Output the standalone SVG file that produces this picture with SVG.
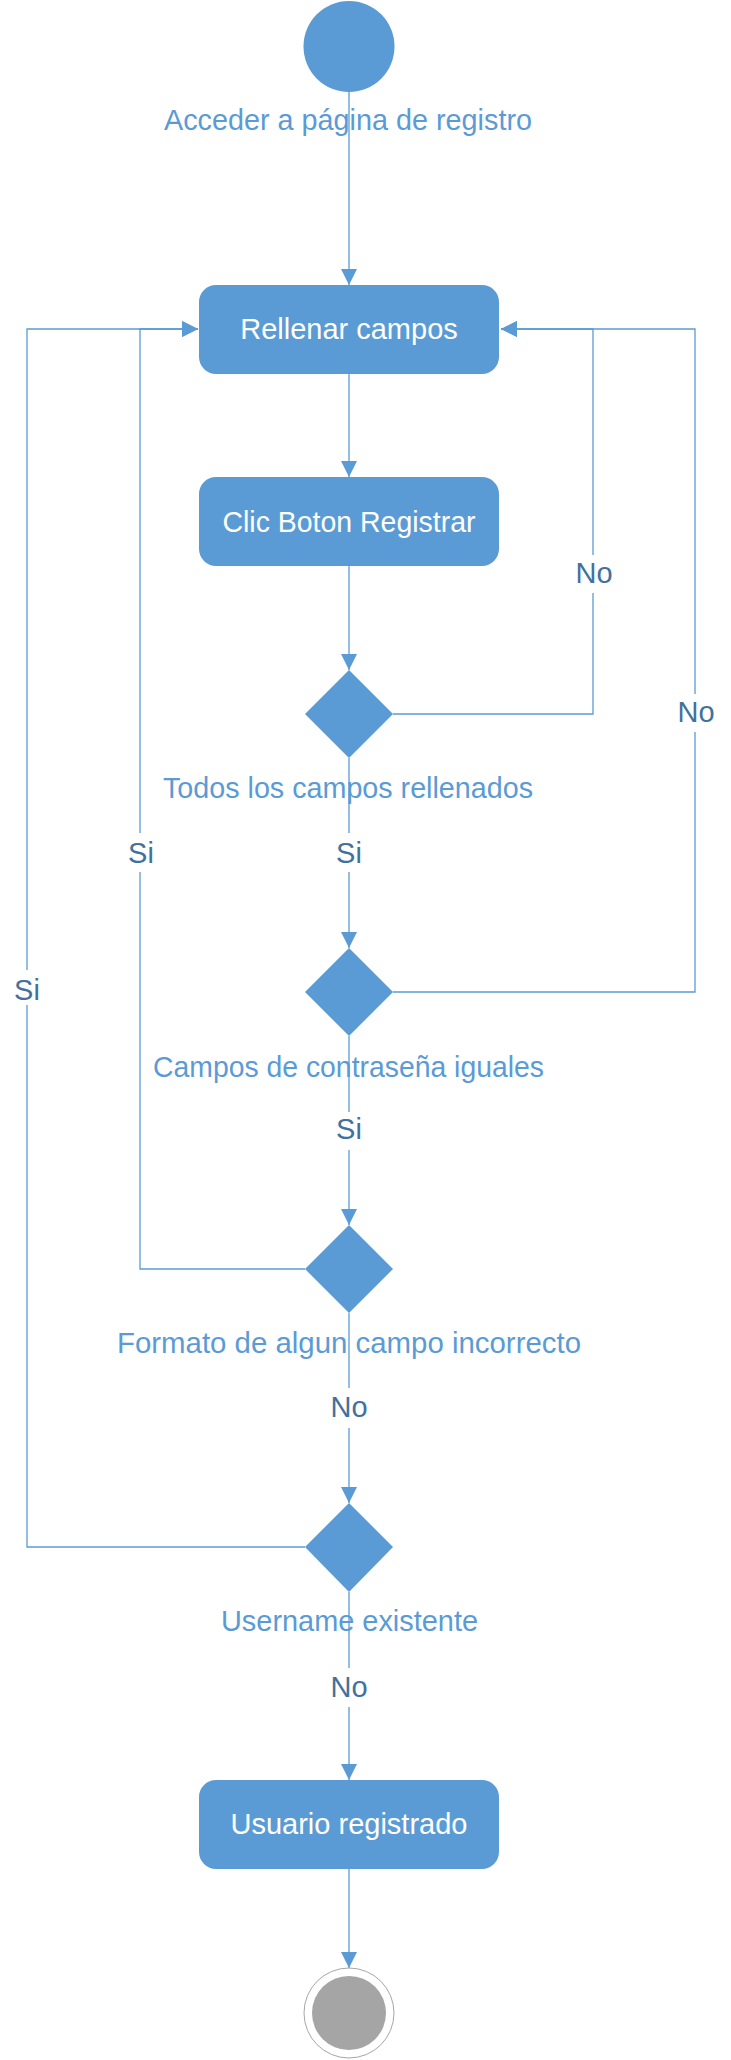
<svg xmlns="http://www.w3.org/2000/svg" width="731" height="2060" viewBox="0 0 731 2060">
<style>
.node{fill:#5b9bd5;}
.ntext{font-family:"Liberation Sans",Arial,sans-serif;font-size:29px;fill:#ffffff;text-anchor:middle;}
.lbl{font-family:"Liberation Sans",Arial,sans-serif;font-size:29px;fill:#5b9bd5;text-anchor:middle;}
.guard{font-family:"Liberation Sans",Arial,sans-serif;font-size:29px;fill:#41719c;text-anchor:middle;}
.edge{fill:none;stroke:#5b9bd5;stroke-width:1.3;}
</style>
<defs>
<marker id="arr" viewBox="0 0 16 16" refX="16" refY="8" markerWidth="16" markerHeight="16" markerUnits="userSpaceOnUse" orient="auto">
<path d="M0,0 L16,8 L0,16 z" fill="#5b9bd5"/>
</marker>
</defs>
<rect width="731" height="2060" fill="#ffffff"/>
<g id="connectors">
<path class="edge" d="M349,92 L349,285" marker-end="url(#arr)"/>
<path class="edge" d="M349,374 L349,477" marker-end="url(#arr)"/>
<path class="edge" d="M349,566 L349,670" marker-end="url(#arr)"/>
<path class="edge" d="M393,714 L593,714 L593,593 M593,555 L593,329 L501,329" marker-end="url(#arr)"/>
<path class="edge" d="M349,758 L349,833 M349,872 L349,948" marker-end="url(#arr)"/>
<path class="edge" d="M393,992 L695,992 L695,732 M695,694 L695,329 L501,329" marker-end="url(#arr)"/>
<path class="edge" d="M349,1036 L349,1112 M349,1150 L349,1225" marker-end="url(#arr)"/>
<path class="edge" d="M305,1269 L140,1269 L140,872 M140,833 L140,329 L198,329" marker-end="url(#arr)"/>
<path class="edge" d="M349,1313 L349,1388 M349,1428 L349,1503" marker-end="url(#arr)"/>
<path class="edge" d="M305,1547 L27,1547 L27,1005 M27,970 L27,329 L198,329" marker-end="url(#arr)"/>
<path class="edge" d="M349,1592 L349,1668 M349,1707 L349,1780" marker-end="url(#arr)"/>
<path class="edge" d="M349,1869 L349,1968" marker-end="url(#arr)"/>
<text class="guard" x="594" y="583">No</text>
<text class="guard" x="696" y="722">No</text>
<text class="guard" x="349" y="863">Si</text>
<text class="guard" x="141" y="863">Si</text>
<text class="guard" x="27" y="1000">Si</text>
<text class="guard" x="349" y="1139">Si</text>
<text class="guard" x="349" y="1417">No</text>
<text class="guard" x="349" y="1697">No</text>
</g>
<g id="start">
<circle class="node" cx="349" cy="46.5" r="45.5"/>
<text class="lbl" x="348" y="130" textLength="368" lengthAdjust="spacingAndGlyphs">Acceder a página de registro</text>
</g>
<g id="rellenar">
<rect class="node" x="199" y="285" width="300" height="89" rx="17" ry="17"/>
<text class="ntext" x="349" y="339">Rellenar campos</text>
</g>
<g id="clic">
<rect class="node" x="199" y="477" width="300" height="89" rx="17" ry="17"/>
<text class="ntext" x="349" y="532" textLength="253" lengthAdjust="spacingAndGlyphs">Clic Boton Registrar</text>
</g>
<g id="d1">
<polygon class="node" points="349,670 393,714 349,758 305,714"/>
<text class="lbl" x="348" y="798" textLength="370" lengthAdjust="spacingAndGlyphs">Todos los campos rellenados</text>
</g>
<g id="d2">
<polygon class="node" points="349,948 393,992 349,1036 305,992"/>
<text class="lbl" x="348.5" y="1077" textLength="391" lengthAdjust="spacingAndGlyphs">Campos de contraseña iguales</text>
</g>
<g id="d3">
<polygon class="node" points="349,1225 393,1269 349,1313 305,1269"/>
<text class="lbl" x="349" y="1353" textLength="464" lengthAdjust="spacingAndGlyphs">Formato de algun campo incorrecto</text>
</g>
<g id="d4">
<polygon class="node" points="349,1503 393,1547 349,1592 305,1547"/>
<text class="lbl" x="349.5" y="1631" textLength="257" lengthAdjust="spacingAndGlyphs">Username existente</text>
</g>
<g id="usuario">
<rect class="node" x="199" y="1780" width="300" height="89" rx="17" ry="17"/>
<text class="ntext" x="349" y="1834">Usuario registrado</text>
</g>
<g id="end">
<circle cx="349" cy="2013" r="45" fill="#ffffff" stroke="#a6a6a6" stroke-width="1"/>
<circle cx="349" cy="2013" r="37" fill="#a5a5a5"/>
</g>
</svg>
